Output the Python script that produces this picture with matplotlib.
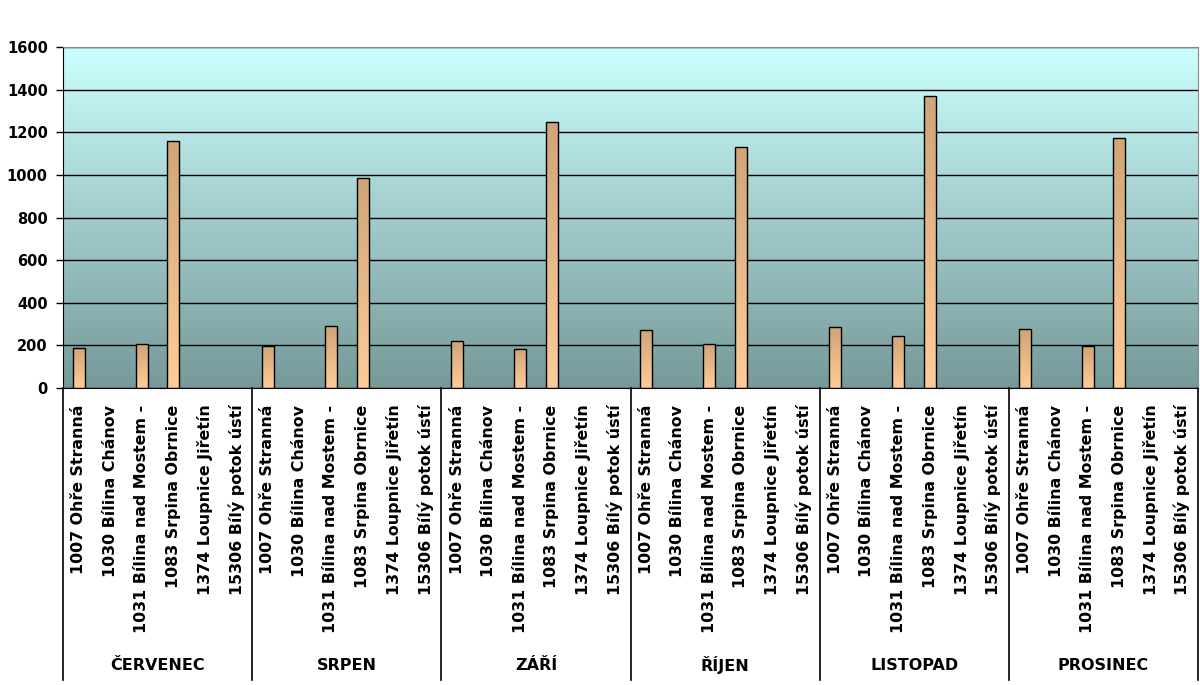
import matplotlib.pyplot as plt
import numpy as np
from matplotlib.colors import LinearSegmentedColormap

plt.rcParams['font.family'] = ['DejaVu Sans']

# Data
months = ['ČERVENEC', 'SRPEN', 'ZÁŘÍ', 'ŘÍJEN', 'LISTOPAD', 'PROSINEC']
stations = ['1007 Ohře Stranná', '1030 Bílina Chánov', '1031 Bílina nad Mostem -',
            '1083 Srpina Obrnice', '1374 Loupnice Jiřetín', '15306 Bílý potok ústí']
# values per month, in station order (None = no bar)
v_1007 = [190, 195, 220, 270, 285, 275]
v_1030 = [None, None, None, None, None, None]
v_1031 = [205, 290, 185, 205, 245, 195]
v_1083 = [1160, 985, 1250, 1130, 1370, 1175]
v_1374 = [None, None, None, None, None, None]
v_15306 = [None, None, None, None, None, None]
series = [v_1007, v_1030, v_1031, v_1083, v_1374, v_15306]

n_st = len(stations)
xs, heights, labels = [], [], []
for m in range(len(months)):
    for s in range(n_st):
        xs.append(m * n_st + s)
        heights.append(series[s][m])
        labels.append(stations[s])

fig = plt.figure(figsize=(12, 6.85), dpi=100)
ax = fig.add_axes([63 / 1200, (685 - 388) / 685, (1198 - 63) / 1200, 341 / 685])

# background gradient
bg = LinearSegmentedColormap.from_list('bg', ['#779999', '#CCFFFF'])
ax.imshow(np.linspace(0, 1, 256).reshape(-1, 1), cmap=bg, origin='lower',
          extent=[0, 1, 0, 1], transform=ax.transAxes, aspect='auto', zorder=0)

ax.set_yticks(range(0, 1601, 200))
ax.yaxis.grid(True, color='black', linewidth=1)
ax.set_axisbelow(True)

bar_cmap = LinearSegmentedColormap.from_list('bar', ['#FFCC99', '#D0A577'])
for x, h in zip(xs, heights):
    if h is None:
        continue
    b = ax.bar(x, h, width=0.38, facecolor='none', edgecolor='black',
               linewidth=1, zorder=3)[0]
    im = ax.imshow(np.linspace(0, 1, 256).reshape(-1, 1), cmap=bar_cmap,
                   origin='lower', extent=[x - 0.19, x + 0.19, 0, h],
                   aspect='auto', zorder=2)
    im.set_clip_path(b)
ax.set_xlim(-0.5, len(xs) - 0.5)
ax.set_ylim(0, 1600)

ax.set_xticks(xs)
ax.set_xticklabels(labels, rotation=90, fontsize=11.4, fontweight='bold')
ax.tick_params(axis='x', length=0, pad=12)
ax.tick_params(axis='y', labelsize=10.5, length=5, width=1, pad=6)
for t in ax.get_yticklabels():
    t.set_fontweight('bold')

for sp in ['top', 'right']:
    ax.spines[sp].set_color('#888888')
for sp in ['left', 'bottom']:
    ax.spines[sp].set_color('black')

# month separators and labels
trans = ax.get_xaxis_transform()
y_bot = -(680 - 388) / 341
for m in range(len(months) + 1):
    xb = m * n_st - 0.5
    ax.plot([xb, xb], [0, y_bot], color='black', linewidth=1.2,
            transform=trans, clip_on=False)
for m, name in enumerate(months):
    ax.text(m * n_st + (n_st - 1) / 2, -(665 - 388) / 341, name, transform=trans,
            ha='center', va='center', fontsize=11.5, fontweight='bold')

fig.savefig('out.png', dpi=100)
